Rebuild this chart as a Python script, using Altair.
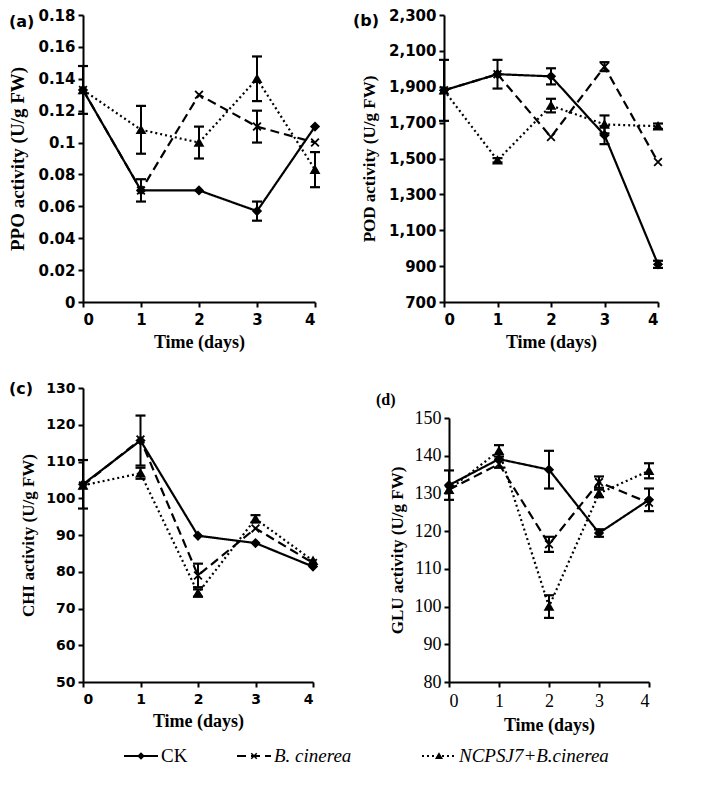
import altair as alt
import pandas as pd

days = [0, 1, 2, 3, 4]
series_names = ["CK", "B. cinerea", "NCPSJ7+B.cinerea"]
panel_labels = ["(a)", "(b)", "(c)", "(d)"]
y_titles = ["PPO activity (U/g FW)", "POD activity (U/g FW)",
            "CHI activity (U/g FW)", "GLU activity (U/g FW)"]
x_title = "Time (days)"

# (a) PPO
ppo_ck = [0.133, 0.070, 0.070, 0.057, 0.110]
ppo_ck_err = [0.015, 0, 0, 0.006, 0]
ppo_bc = [0.133, 0.070, 0.130, 0.110, 0.100]
ppo_bc_err = [0, 0.007, 0, 0.010, 0]
ppo_nc = [0.133, 0.108, 0.100, 0.140, 0.083]
ppo_nc_err = [0, 0.015, 0.010, 0.014, 0.011]
ppo_ticks = [0, 0.02, 0.04, 0.06, 0.08, 0.1, 0.12, 0.14, 0.16, 0.18]

# (b) POD
pod_ck = [1880, 1970, 1958, 1630, 910]
pod_ck_err = [170, 0, 45, 50, 20]
pod_bc = [1880, 1970, 1620, 2012, 1480]
pod_bc_err = [0, 80, 0, 25, 0]
pod_nc = [1880, 1490, 1795, 1690, 1680]
pod_nc_err = [0, 12, 38, 50, 15]
pod_ticks = [700, 900, 1100, 1300, 1500, 1700, 1900, 2100, 2300]

# (c) CHI
chi_ck = [103.8, 115.7, 89.8, 87.8, 81.4]
chi_ck_err = [6.6, 6.8, 0, 0, 0]
chi_bc = [103.5, 116.0, 79.0, 91.8, 82.4]
chi_bc_err = [0, 0, 3.2, 0, 0]
chi_nc = [103.5, 106.8, 74.2, 94.4, 83.0]
chi_nc_err = [0, 1.5, 1.0, 1.0, 0]
chi_ticks = [50, 60, 70, 80, 90, 100, 110, 120, 130]

# (d) GLU
glu_ck = [132.2, 139.1, 136.3, 119.5, 128.3]
glu_ck_err = [3.9, 0, 5.0, 1.0, 3.0]
glu_bc = [131.0, 137.8, 116.5, 133.0, 127.5]
glu_bc_err = [0, 1.0, 2.0, 1.5, 0]
glu_nc = [131.0, 141.3, 100.0, 130.0, 136.0]
glu_nc_err = [0, 1.5, 3.0, 1.0, 2.0]
glu_ticks = [80, 90, 100, 110, 120, 130, 140, 150]


def make_df(vals, errs):
    rows = []
    for name, v, e in zip(series_names, vals, errs):
        for d, vv, ee in zip(days, v, e):
            rows.append({"series": name, "day": d, "value": vv, "err": ee,
                         "lo": vv - ee, "hi": vv + ee})
    return pd.DataFrame(rows)


DASH = alt.Scale(domain=series_names, range=[[1, 0], [9, 5], [2, 3]])
SHAPE = alt.Scale(domain=series_names,
                  range=["diamond", "M-1,-1L1,1M-1,1L1,-1", "triangle-up"])

SANS = "DejaVu Sans"
SERIF = "Liberation Serif"


def panel(df, label, ytitle, ydom, yticks, yfmt, w, h, label_dx, label_dy,
          tick_font=SANS, tick_size=15, tick_weight="bold", title_size=17,
          title_pad=8, yrange=None, label_font=SANS):
    xscale = alt.Scale(domain=[0, 4], nice=False, zero=False)
    xaxis = alt.Axis(values=days, format="d", title=x_title, labelFont=tick_font,
                     labelFontSize=tick_size, labelFontWeight=tick_weight,
                     titleFont=SERIF, titleFontSize=18, titleFontWeight="bold",
                     labelPadding=5, titlePadding=6)
    sc = dict(domain=ydom, nice=False, zero=False)
    if yrange is not None:
        sc["range"] = yrange
    yscale = alt.Scale(**sc)
    yaxis = alt.Axis(values=yticks, format=yfmt, title=ytitle, labelFont=tick_font,
                     labelFontSize=tick_size, labelFontWeight=tick_weight,
                     titleFont=SERIF, titleFontSize=title_size,
                     titleFontWeight="bold", labelPadding=3,
                     titlePadding=title_pad, labelOverlap=False)

    def X(f):
        return alt.X(f"{f}:Q", scale=xscale, axis=xaxis)

    def Y(f):
        return alt.Y(f"{f}:Q", scale=yscale, axis=yaxis)

    base = alt.Chart(df)
    line = base.mark_line(color="black", strokeWidth=2.2).encode(
        x=X("day"), y=Y("value"),
        strokeDash=alt.StrokeDash("series:N", scale=DASH, legend=None),
        detail="series:N")
    eb = base.transform_filter("datum.err > 0")
    rule = eb.mark_rule(color="black", strokeWidth=2).encode(
        x=X("day"), y=Y("lo"), y2="hi:Q")
    cap_lo = eb.mark_tick(color="black", orient="horizontal", size=10,
                          thickness=2.2, opacity=1).encode(x=X("day"), y=Y("lo"))
    cap_hi = eb.mark_tick(color="black", orient="horizontal", size=10,
                          thickness=2.2, opacity=1).encode(x=X("day"), y=Y("hi"))
    pts = base.mark_point(filled=True, size=60, color="black", stroke="black",
                          strokeWidth=1.8, opacity=1).encode(
        x=X("day"), y=Y("value"),
        shape=alt.Shape("series:N", scale=SHAPE, legend=None))
    lab = alt.Chart(pd.DataFrame({"t": [label]})).mark_text(
        align="left", baseline="middle", font=label_font, fontWeight="bold",
        fontSize=16, color="black").encode(
        x=alt.value(label_dx), y=alt.value(label_dy), text="t:N")
    return alt.layer(line, rule, cap_lo, cap_hi, pts, lab).properties(
        width=w, height=h)


pa = panel(make_df([ppo_ck, ppo_bc, ppo_nc], [ppo_ck_err, ppo_bc_err, ppo_nc_err]),
           panel_labels[0], y_titles[0], [0, 0.18], ppo_ticks, "~g", 232, 287,
           -74, 7, title_size=19, title_pad=10)
pb = panel(make_df([pod_ck, pod_bc, pod_nc], [pod_ck_err, pod_bc_err, pod_nc_err]),
           panel_labels[1], y_titles[1], [700, 2300], pod_ticks, ",d", 214, 287,
           -91, 6, title_pad=10)
pc = panel(make_df([chi_ck, chi_bc, chi_nc], [chi_ck_err, chi_bc_err, chi_nc_err]),
           panel_labels[2], y_titles[2], [50, 130], chi_ticks, "d", 230, 294,
           -74, 1, tick_size=14, title_pad=8)
pd_ = panel(make_df([glu_ck, glu_bc, glu_nc], [glu_ck_err, glu_bc_err, glu_nc_err]),
            panel_labels[3], y_titles[3], [80, 150], glu_ticks, "d", 200, 294,
            -73, 12, tick_font=SERIF, tick_size=18, tick_weight="normal",
            title_pad=8, yrange=[294, 30], label_font=SERIF)

# legend: items placed by their order through a piecewise-linear scale
leg_df = pd.DataFrame({"series": series_names,
                       "order": list(range(len(series_names)))})
lx = alt.X("order:Q", scale=alt.Scale(domain=[0, 1, 2], range=[41, 154, 339]),
           axis=None)
leg_line = alt.Chart(leg_df).mark_rule(strokeWidth=2.2, color="black",
                                       xOffset=0, x2Offset=34).encode(
    x=lx, x2="order:Q", y=alt.value(9),
    strokeDash=alt.StrokeDash("series:N", scale=DASH, legend=None))
leg_pt = alt.Chart(leg_df).mark_point(filled=True, size=30, color="black",
                                      stroke="black", strokeWidth=1.5, opacity=1,
                                      xOffset=17).encode(
    x=lx, y=alt.value(9),
    shape=alt.Shape("series:N", scale=SHAPE, legend=None))
leg_txt_n = alt.Chart(leg_df).transform_filter("datum.series == 'CK'").mark_text(
    align="left", baseline="middle", font=SERIF, fontSize=19, color="black",
    dx=37).encode(x=lx, y=alt.value(9), text="series:N")
leg_txt_i = alt.Chart(leg_df).transform_filter("datum.series != 'CK'").mark_text(
    align="left", baseline="middle", font=SERIF, fontSize=19, fontStyle="italic",
    color="black", dx=37).encode(x=lx, y=alt.value(9), text="series:N")
legend = alt.layer(leg_line, leg_pt, leg_txt_n, leg_txt_i).properties(
    width=560, height=18)

row1 = alt.hconcat(pa, pb, spacing=30)
row2 = alt.hconcat(pc, pd_, spacing=55)
panels = alt.vconcat(row1, row2, spacing=30)
chart = alt.vconcat(panels, legend, spacing=13).properties(
    padding=0
).configure_view(stroke=None).configure_axis(
    grid=False, domainColor="black", domainWidth=2, tickColor="black",
    tickWidth=2, tickSize=5, labelColor="black", titleColor="black"
).configure_concat(spacing=0)

chart.save("out.html", embed_options={"renderer": "svg", "actions": False})
